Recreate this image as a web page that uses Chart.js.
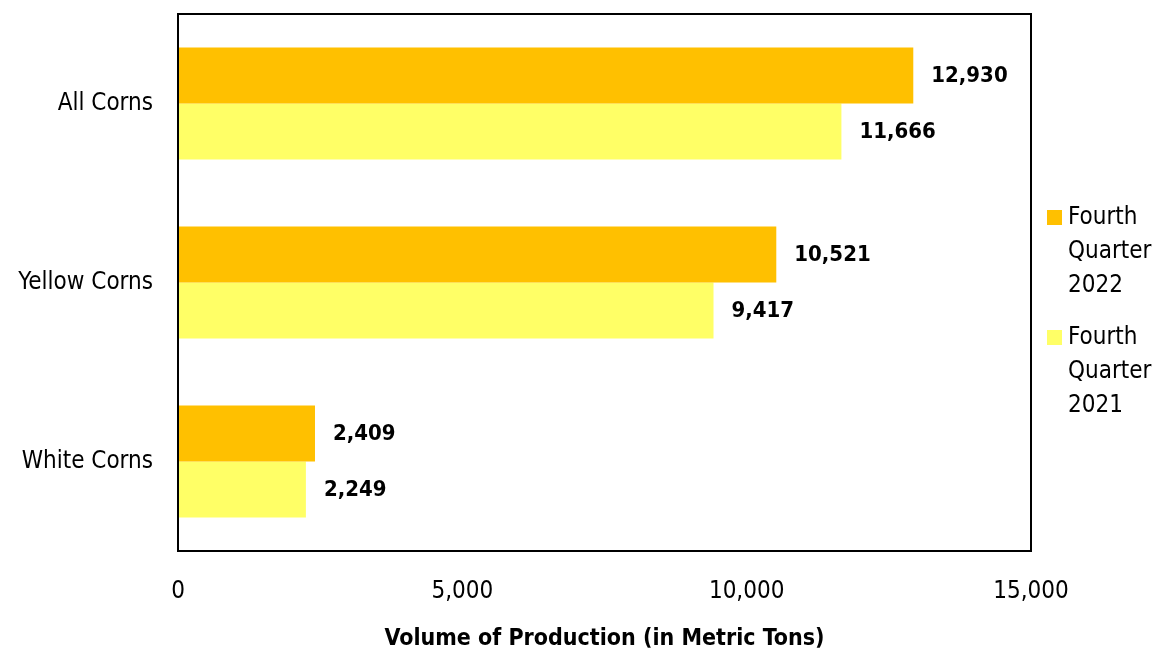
<!DOCTYPE html>
<html lang="en">
<head>
  <meta charset="UTF-8">
  <title>Volume of Production of Corn</title>
  <style>
    * { margin: 0; padding: 0; box-sizing: border-box; }
    body { background: #ffffff; width: 1153px; height: 653px; overflow: hidden; }
    .wrap { position: relative; width: 1153px; height: 653px; }
  </style>
  <script src="https://cdn.jsdelivr.net/npm/chart.js@4.4.0/dist/chart.umd.min.js"></script>
</head>
<body>
  <div class="wrap"><canvas id="cornChart" width="1153" height="653"></canvas></div>

  <script>
    const categories = ['All Corns', 'Yellow Corns', 'White Corns'];
    const seriesLabels = ['Fourth Quarter 2022', 'Fourth Quarter 2021'];
    const q4of2022 = [12930, 10521, 2409];
    const q4of2021 = [11666, 9417, 2249];
    const xTicks = [0, 5000, 10000, 15000];

    const FONT = "'Liberation Sans Narrow', 'Arial Narrow', 'DejaVu Sans Condensed', sans-serif";

    // value labels at end of each bar
    const valueLabels = {
      id: 'valueLabels',
      afterDatasetsDraw(chart) {
        const c = chart.ctx;
        c.save();
        c.font = 'bold 22px ' + FONT;
        c.fillStyle = '#000';
        c.textBaseline = 'middle';
        c.textAlign = 'left';
        chart.data.datasets.forEach((ds, i) => {
          chart.getDatasetMeta(i).data.forEach((bar, j) => {
            c.fillText(ds.data[j].toLocaleString('en-US'), bar.x + 18, bar.y + 1);
          });
        });
        c.restore();
      }
    };

    // box round plot area + legend on the right
    const frameAndLegend = {
      id: 'frameAndLegend',
      afterDraw(chart) {
        const c = chart.ctx;
        const a = chart.chartArea;
        c.save();
        c.strokeStyle = '#000';
        c.lineWidth = 2;
        c.strokeRect(a.left, a.top, a.right - a.left, a.bottom - a.top);

        c.font = '24px ' + FONT;
        c.textBaseline = 'middle';
        c.textAlign = 'left';
        let y = 218;
        chart.data.datasets.forEach(ds => {
          c.fillStyle = ds.backgroundColor;
          c.fillRect(1047, y - 8, 15, 15);
          c.fillStyle = '#000';
          ds.label.split(' ').forEach((w, k) => {
            c.fillText(w, 1068, y + k * 34);
          });
          y += 120;
        });
        c.restore();
      }
    };

    new Chart(document.getElementById('cornChart'), {
      type: 'bar',
      data: {
        labels: categories,
        datasets: [
          { label: seriesLabels[0], data: q4of2022, backgroundColor: '#FFC000' },
          { label: seriesLabels[1], data: q4of2021, backgroundColor: '#FFFF66' }
        ]
      },
      options: {
        indexAxis: 'y',
        responsive: false,
        animation: false,
        layout: { padding: { top: 14, right: 122, left: 0, bottom: 0 } },
        datasets: { bar: { categoryPercentage: 0.625, barPercentage: 1 } },
        scales: {
          x: {
            min: 0,
            max: 15000,
            afterBuildTicks(scale) { scale.ticks = xTicks.map(v => ({ value: v })); },
            afterFit(scale) {
              scale.height = 102;
              scale.paddingLeft = 0;
              scale.paddingRight = 0;
            },
            grid: { display: false, drawTicks: false },
            border: { display: false },
            ticks: {
              color: '#000',
              padding: 26,
              font: { family: FONT, size: 24 },
              callback: v => v.toLocaleString('en-US')
            },
            title: {
              display: true,
              text: 'Volume of Production (in Metric Tons)',
              color: '#000',
              padding: 0,
              font: { family: FONT, size: 23, weight: 'bold' }
            }
          },
          y: {
            afterFit(scale) {
              scale.width = 178;
              scale.paddingTop = 0;
              scale.paddingBottom = 0;
            },
            grid: { display: false, drawTicks: false },
            border: { display: false },
            ticks: {
              color: '#000',
              padding: 25,
              font: { family: FONT, size: 24 }
            }
          }
        },
        plugins: {
          legend: { display: false },
          tooltip: { enabled: false }
        }
      },
      plugins: [valueLabels, frameAndLegend]
    });
  </script>
</body>
</html>
